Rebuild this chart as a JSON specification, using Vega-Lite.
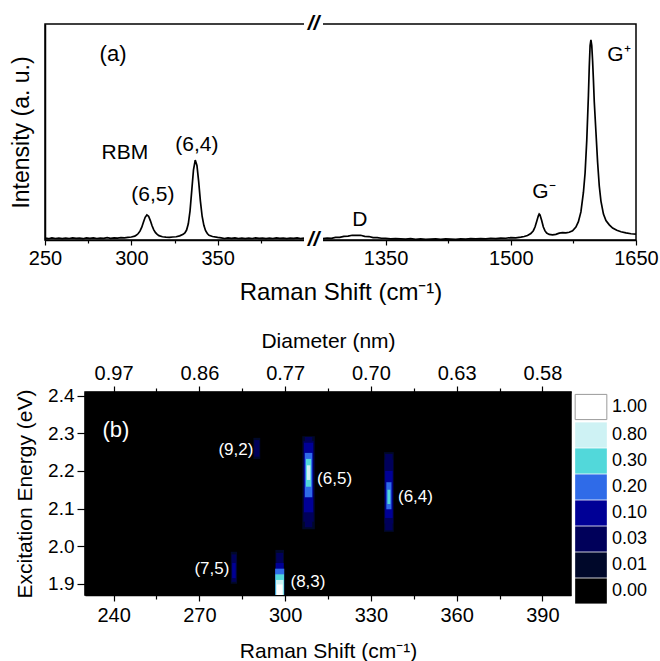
{
  "$schema": "https://vega.github.io/schema/vega-lite/v6.json",
  "padding": {"left": 9, "top": 12, "right": 5, "bottom": 5},
  "background": "white",
  "config": {
    "font": "Liberation Sans",
    "view": {"stroke": "black", "strokeWidth": 1.5},
    "axis": {"labelFont": "Liberation Sans", "titleFont": "Liberation Sans", "labelColor": "black", "titleColor": "black", "domainColor": "black", "tickColor": "black", "titleFontWeight": "normal", "grid": false, "labelFlush": false, "labelOverlap": false, "domainWidth": 1.5, "tickWidth": 1.2},
    "legend": {"labelFont": "Liberation Sans", "labelColor": "black"}
  },
  "datasets": {
    "spectrum": [
      {"s": 250, "i": 0.9, "g": "low"}, {"s": 252, "i": 0.6, "g": "low"}, {"s": 254, "i": 1.0, "g": "low"}, {"s": 256, "i": 0.7, "g": "low"}, {"s": 258, "i": 0.9, "g": "low"}, {"s": 260, "i": 0.6, "g": "low"}, {"s": 262, "i": 0.9, "g": "low"}, {"s": 264, "i": 0.7, "g": "low"}, {"s": 266, "i": 1.0, "g": "low"}, {"s": 268, "i": 0.8, "g": "low"}, {"s": 270, "i": 0.9, "g": "low"}, {"s": 272, "i": 0.6, "g": "low"}, {"s": 274, "i": 1.0, "g": "low"}, {"s": 276, "i": 0.8, "g": "low"}, {"s": 278, "i": 1.0, "g": "low"}, {"s": 280, "i": 0.7, "g": "low"}, {"s": 282, "i": 0.9, "g": "low"}, {"s": 284, "i": 0.8, "g": "low"}, {"s": 286, "i": 1.1, "g": "low"}, {"s": 288, "i": 0.8, "g": "low"}, {"s": 290, "i": 1.0, "g": "low"}, {"s": 292, "i": 0.9, "g": "low"}, {"s": 294, "i": 1.1, "g": "low"}, {"s": 296, "i": 1.0, "g": "low"}, {"s": 298, "i": 1.2, "g": "low"}, {"s": 300, "i": 1.4, "g": "low"}, {"s": 302, "i": 1.8, "g": "low"}, {"s": 303, "i": 2.3, "g": "low"}, {"s": 304, "i": 3.0, "g": "low"}, {"s": 305, "i": 4.1, "g": "low"}, {"s": 306, "i": 5.8, "g": "low"}, {"s": 307, "i": 8.2, "g": "low"}, {"s": 308, "i": 10.5, "g": "low"}, {"s": 309, "i": 11.6, "g": "low"}, {"s": 310, "i": 11.0, "g": "low"}, {"s": 311, "i": 9.0, "g": "low"}, {"s": 312, "i": 6.6, "g": "low"}, {"s": 313, "i": 4.7, "g": "low"}, {"s": 314, "i": 3.4, "g": "low"}, {"s": 315, "i": 2.6, "g": "low"}, {"s": 316, "i": 2.0, "g": "low"}, {"s": 318, "i": 1.5, "g": "low"}, {"s": 320, "i": 1.3, "g": "low"}, {"s": 322, "i": 1.2, "g": "low"}, {"s": 324, "i": 1.4, "g": "low"}, {"s": 326, "i": 1.5, "g": "low"}, {"s": 328, "i": 1.9, "g": "low"}, {"s": 330, "i": 2.6, "g": "low"}, {"s": 331, "i": 3.3, "g": "low"}, {"s": 332, "i": 4.6, "g": "low"}, {"s": 333, "i": 7.5, "g": "low"}, {"s": 334, "i": 13.5, "g": "low"}, {"s": 335, "i": 23, "g": "low"}, {"s": 336, "i": 32.5, "g": "low"}, {"s": 337, "i": 37, "g": "low"}, {"s": 338, "i": 34.5, "g": "low"}, {"s": 339, "i": 27, "g": "low"}, {"s": 340, "i": 18, "g": "low"}, {"s": 341, "i": 11, "g": "low"}, {"s": 342, "i": 6.8, "g": "low"}, {"s": 343, "i": 4.3, "g": "low"}, {"s": 344, "i": 3.0, "g": "low"}, {"s": 345, "i": 2.2, "g": "low"}, {"s": 347, "i": 1.6, "g": "low"}, {"s": 350, "i": 1.2, "g": "low"}, {"s": 352, "i": 1.0, "g": "low"}, {"s": 354, "i": 0.7, "g": "low"}, {"s": 356, "i": 1.0, "g": "low"}, {"s": 358, "i": 0.8, "g": "low"}, {"s": 360, "i": 1.0, "g": "low"}, {"s": 362, "i": 0.7, "g": "low"}, {"s": 364, "i": 0.9, "g": "low"}, {"s": 366, "i": 0.6, "g": "low"}, {"s": 368, "i": 0.9, "g": "low"}, {"s": 370, "i": 0.7, "g": "low"}, {"s": 372, "i": 1.0, "g": "low"}, {"s": 374, "i": 0.8, "g": "low"}, {"s": 376, "i": 0.9, "g": "low"}, {"s": 378, "i": 0.6, "g": "low"}, {"s": 380, "i": 0.9, "g": "low"}, {"s": 382, "i": 0.7, "g": "low"}, {"s": 384, "i": 1.0, "g": "low"}, {"s": 386, "i": 0.8, "g": "low"}, {"s": 388, "i": 0.9, "g": "low"}, {"s": 390, "i": 0.6, "g": "low"}, {"s": 392, "i": 0.9, "g": "low"}, {"s": 394, "i": 0.8, "g": "low"}, {"s": 396, "i": 1.0, "g": "low"}, {"s": 398, "i": 0.7, "g": "low"}, {"s": 400, "i": 0.9, "g": "low"},
      {"s": 1275, "i": 0.6, "g": "high"}, {"s": 1280, "i": 0.9, "g": "high"}, {"s": 1285, "i": 0.8, "g": "high"}, {"s": 1290, "i": 1.2, "g": "high"}, {"s": 1295, "i": 1.2, "g": "high"}, {"s": 1300, "i": 1.7, "g": "high"}, {"s": 1305, "i": 1.8, "g": "high"}, {"s": 1310, "i": 2.2, "g": "high"}, {"s": 1315, "i": 2.1, "g": "high"}, {"s": 1320, "i": 2.2, "g": "high"}, {"s": 1325, "i": 1.7, "g": "high"}, {"s": 1330, "i": 1.6, "g": "high"}, {"s": 1335, "i": 1.1, "g": "high"}, {"s": 1340, "i": 1.1, "g": "high"}, {"s": 1345, "i": 0.8, "g": "high"}, {"s": 1350, "i": 0.8, "g": "high"}, {"s": 1356, "i": 0.5, "g": "high"}, {"s": 1362, "i": 0.6, "g": "high"}, {"s": 1368, "i": 0.5, "g": "high"}, {"s": 1374, "i": 0.4, "g": "high"}, {"s": 1380, "i": 0.6, "g": "high"}, {"s": 1386, "i": 0.3, "g": "high"}, {"s": 1392, "i": 0.5, "g": "high"}, {"s": 1398, "i": 0.3, "g": "high"}, {"s": 1404, "i": 0.4, "g": "high"}, {"s": 1410, "i": 0.5, "g": "high"}, {"s": 1416, "i": 0.3, "g": "high"}, {"s": 1422, "i": 0.5, "g": "high"}, {"s": 1428, "i": 0.4, "g": "high"}, {"s": 1434, "i": 0.3, "g": "high"}, {"s": 1440, "i": 0.5, "g": "high"}, {"s": 1446, "i": 0.4, "g": "high"}, {"s": 1452, "i": 0.6, "g": "high"}, {"s": 1458, "i": 0.5, "g": "high"}, {"s": 1464, "i": 0.6, "g": "high"}, {"s": 1470, "i": 0.5, "g": "high"}, {"s": 1476, "i": 0.8, "g": "high"}, {"s": 1482, "i": 0.6, "g": "high"}, {"s": 1488, "i": 0.9, "g": "high"}, {"s": 1494, "i": 0.8, "g": "high"}, {"s": 1500, "i": 1.1, "g": "high"}, {"s": 1506, "i": 1.0, "g": "high"}, {"s": 1512, "i": 1.3, "g": "high"}, {"s": 1516, "i": 1.6, "g": "high"}, {"s": 1520, "i": 2.1, "g": "high"}, {"s": 1524, "i": 3.0, "g": "high"}, {"s": 1527, "i": 4.3, "g": "high"}, {"s": 1529, "i": 6.0, "g": "high"}, {"s": 1531, "i": 8.6, "g": "high"}, {"s": 1533, "i": 11.2, "g": "high"}, {"s": 1534, "i": 12.0, "g": "high"}, {"s": 1535, "i": 11.6, "g": "high"}, {"s": 1537, "i": 9.0, "g": "high"}, {"s": 1539, "i": 6.0, "g": "high"}, {"s": 1541, "i": 4.2, "g": "high"}, {"s": 1543, "i": 3.2, "g": "high"}, {"s": 1546, "i": 2.6, "g": "high"}, {"s": 1550, "i": 2.4, "g": "high"}, {"s": 1554, "i": 2.6, "g": "high"}, {"s": 1558, "i": 3.2, "g": "high"}, {"s": 1562, "i": 3.4, "g": "high"}, {"s": 1566, "i": 3.3, "g": "high"}, {"s": 1570, "i": 3.6, "g": "high"}, {"s": 1574, "i": 4.3, "g": "high"}, {"s": 1578, "i": 6.0, "g": "high"}, {"s": 1581, "i": 8.5, "g": "high"}, {"s": 1584, "i": 13, "g": "high"}, {"s": 1587, "i": 22, "g": "high"}, {"s": 1589, "i": 31, "g": "high"}, {"s": 1591, "i": 46, "g": "high"}, {"s": 1593, "i": 67, "g": "high"}, {"s": 1594, "i": 80, "g": "high"}, {"s": 1595, "i": 90, "g": "high"}, {"s": 1596, "i": 92.6, "g": "high"}, {"s": 1597, "i": 90, "g": "high"}, {"s": 1598, "i": 83, "g": "high"}, {"s": 1599, "i": 74, "g": "high"}, {"s": 1600, "i": 64, "g": "high"}, {"s": 1602, "i": 50, "g": "high"}, {"s": 1604, "i": 36, "g": "high"}, {"s": 1606, "i": 25, "g": "high"}, {"s": 1608, "i": 18, "g": "high"}, {"s": 1611, "i": 12, "g": "high"}, {"s": 1614, "i": 9, "g": "high"}, {"s": 1618, "i": 7, "g": "high"}, {"s": 1622, "i": 5.5, "g": "high"}, {"s": 1627, "i": 4.5, "g": "high"}, {"s": 1632, "i": 3.8, "g": "high"}, {"s": 1638, "i": 3.3, "g": "high"}, {"s": 1644, "i": 2.9, "g": "high"}, {"s": 1650, "i": 2.7, "g": "high"}
    ],
    "peaks": [
      {"label": "RBM", "s": 296.3, "i": 40.3},
      {"label": "(6,5)", "s": 312.5, "i": 20.8},
      {"label": "(6,4)", "s": 338, "i": 44},
      {"label": "D", "s": 1319, "i": 9.3},
      {"label": "G⁻", "s": 1539.8, "i": 22.2},
      {"label": "G⁺", "s": 1629.6, "i": 85.6}
    ],
    "cells": [
      {"r0": 288.9, "r1": 291.3, "e0": 2.232, "e1": 2.288, "level": "0.01"},
      {"r0": 289.2, "r1": 291.0, "e0": 2.238, "e1": 2.282, "level": "0.03"},
      {"r0": 306.0, "r1": 310.4, "e0": 2.045, "e1": 2.292, "level": "0.01"},
      {"r0": 306.9, "r1": 309.5, "e0": 2.05, "e1": 2.29, "level": "0.03"},
      {"r0": 306.4, "r1": 310.0, "e0": 2.065, "e1": 2.28, "level": "0.03"},
      {"r0": 306.6, "r1": 309.8, "e0": 2.09, "e1": 2.275, "level": "0.10"},
      {"r0": 306.9, "r1": 309.5, "e0": 2.13, "e1": 2.248, "level": "0.20"},
      {"r0": 307.3, "r1": 309.1, "e0": 2.158, "e1": 2.232, "level": "0.30"},
      {"r0": 307.6, "r1": 308.8, "e0": 2.176, "e1": 2.215, "level": "0.80"},
      {"r0": 334.6, "r1": 338.0, "e0": 2.038, "e1": 2.25, "level": "0.01"},
      {"r0": 335.0, "r1": 337.6, "e0": 2.042, "e1": 2.245, "level": "0.03"},
      {"r0": 334.8, "r1": 337.8, "e0": 2.06, "e1": 2.23, "level": "0.03"},
      {"r0": 335.0, "r1": 337.6, "e0": 2.075, "e1": 2.2, "level": "0.10"},
      {"r0": 335.4, "r1": 337.2, "e0": 2.098, "e1": 2.17, "level": "0.20"},
      {"r0": 335.8, "r1": 336.8, "e0": 2.112, "e1": 2.15, "level": "0.30"},
      {"r0": 281.0, "r1": 283.2, "e0": 1.9, "e1": 1.985, "level": "0.01"},
      {"r0": 281.3, "r1": 282.9, "e0": 1.905, "e1": 1.978, "level": "0.03"},
      {"r0": 281.5, "r1": 282.7, "e0": 1.915, "e1": 1.955, "level": "0.10"},
      {"r0": 296.6, "r1": 299.6, "e0": 1.87, "e1": 1.99, "level": "0.01"},
      {"r0": 296.9, "r1": 299.3, "e0": 1.87, "e1": 1.982, "level": "0.03"},
      {"r0": 296.7, "r1": 299.5, "e0": 1.87, "e1": 1.955, "level": "0.10"},
      {"r0": 296.5, "r1": 299.7, "e0": 1.87, "e1": 1.94, "level": "0.20"},
      {"r0": 296.6, "r1": 299.6, "e0": 1.87, "e1": 1.925, "level": "0.30"},
      {"r0": 296.8, "r1": 299.4, "e0": 1.87, "e1": 1.91, "level": "0.80"},
      {"r0": 297.1, "r1": 299.1, "e0": 1.87, "e1": 1.898, "level": "1.00"}
    ],
    "spots": [
      {"label": "(9,2)", "tx": 282.8, "ty": 2.255},
      {"label": "(6,5)", "tx": 317.3, "ty": 2.178},
      {"label": "(6,4)", "tx": 345.6, "ty": 2.13},
      {"label": "(7,5)", "tx": 274.4, "ty": 1.938},
      {"label": "(8,3)", "tx": 308, "ty": 1.904}
    ]
  },
  "vconcat": [
    {
      "width": 591,
      "height": 216,
      "layer": [
        {
          "data": {"name": "spectrum"},
          "mark": {"type": "line", "color": "black", "strokeWidth": 1.7},
          "encoding": {
            "x": {"field": "s", "type": "quantitative",
              "scale": {"domain": [250, 400, 1275, 1650], "range": [0, 259, 278, 591], "nice": false, "zero": false},
              "axis": {"values": [250, 275, 300, 325, 350, 375, 1350, 1425, 1500, 1575, 1650], "format": "d",
                "labelExpr": "indexof([250,300,350,1350,1500,1650], datum.value) >= 0 ? datum.label : ''",
                "tickSize": {"condition": {"test": "indexof([250,300,350,1350,1500,1650], datum.value) >= 0", "value": 5}, "value": 3},
                "title": "Raman Shift (cm⁻¹)", "titleFontSize": 24, "labelFontSize": 20, "labelPadding": 3, "titlePadding": 12}},
            "y": {"field": "i", "type": "quantitative",
              "scale": {"domain": [0, 100], "nice": false, "zero": false},
              "axis": {"title": "Intensity (a. u.)", "ticks": false, "labels": false, "titleFontSize": 23, "titlePadding": 12}},
            "detail": {"field": "g"}
          }
        },
        {
          "data": {"values": [{}]},
          "mark": {"type": "rect", "color": "white"},
          "encoding": {"x": {"datum": 400}, "x2": {"datum": 1275}, "y": {"datum": -3}, "y2": {"datum": 3}}
        },
        {
          "data": {"values": [{}]},
          "mark": {"type": "rect", "color": "white"},
          "encoding": {"x": {"datum": 400}, "x2": {"datum": 1275}, "y": {"datum": 97}, "y2": {"datum": 103}}
        },
        {
          "data": {"values": [{}]},
          "mark": {"type": "text", "text": "//", "fontSize": 21, "fontWeight": "bold", "fontStyle": "italic", "baseline": "middle", "align": "center"},
          "encoding": {"x": {"datum": 837}, "y": {"datum": 100}}
        },
        {
          "data": {"values": [{}]},
          "mark": {"type": "text", "text": "//", "fontSize": 21, "fontWeight": "bold", "fontStyle": "italic", "baseline": "middle", "align": "center"},
          "encoding": {"x": {"datum": 837}, "y": {"datum": 0}}
        },
        {
          "data": {"name": "peaks"},
          "mark": {"type": "text", "fontSize": 21, "baseline": "middle", "align": "center", "color": "black"},
          "encoding": {"x": {"field": "s", "type": "quantitative"}, "y": {"field": "i", "type": "quantitative"}, "text": {"field": "label"}}
        },
        {
          "data": {"values": [{"label": "(a)", "s": 289.4, "i": 86}]},
          "mark": {"type": "text", "fontSize": 22, "baseline": "middle", "align": "center", "color": "black"},
          "encoding": {"x": {"field": "s", "type": "quantitative"}, "y": {"field": "i", "type": "quantitative"}, "text": {"field": "label"}}
        }
      ]
    },
    {
      "hconcat": [
        {
          "width": 40,
          "height": 203,
          "view": {"stroke": null, "fill": null},
          "data": {"values": [{}]},
          "mark": {"type": "point", "opacity": 0},
          "encoding": {}
        },
        {
          "width": 486,
          "height": 203,
          "view": {"fill": "black", "stroke": "black"},
          "layer": [
            {
              "data": {"name": "cells"},
              "mark": {"type": "rect", "strokeWidth": 0},
              "encoding": {
                "x": {"field": "r0", "type": "quantitative",
                  "scale": {"domain": [230, 400], "nice": false, "zero": false},
                  "axis": {"values": [240, 255, 270, 285, 300, 315, 330, 345, 360, 375, 390],
                    "labelExpr": "(datum.value - 240) % 30 == 0 ? datum.label : ''",
                    "tickSize": {"condition": {"test": "(datum.value - 240) % 30 == 0", "value": 6}, "value": 4},
                    "title": "Raman Shift (cm⁻¹)", "titleFontSize": 21, "labelFontSize": 20, "labelPadding": 4, "titlePadding": 15}},
                "x2": {"field": "r1"},
                "y": {"field": "e0", "type": "quantitative",
                  "scale": {"domain": [1.87, 2.41], "nice": false, "zero": false},
                  "axis": {"values": [1.9, 1.95, 2.0, 2.05, 2.1, 2.15, 2.2, 2.25, 2.3, 2.35, 2.4],
                    "labelExpr": "round(datum.value * 100) % 10 == 0 ? format(datum.value, '.1f') : ''",
                    "tickSize": {"condition": {"test": "round(datum.value * 100) % 10 == 0", "value": 8}, "value": 5},
                    "title": "Excitation Energy (eV)", "titleFontSize": 21, "labelFontSize": 19, "labelPadding": 3, "titlePadding": 12}},
                "y2": {"field": "e1"},
                "color": {"field": "level", "type": "nominal",
                  "scale": {"domain": ["1.00", "0.80", "0.30", "0.20", "0.10", "0.03", "0.01", "0.00"],
                    "range": ["#ffffff", "#cef2f4", "#52d8da", "#2f6be8", "#000096", "#00005a", "#00082a", "#000000"]},
                  "legend": {"title": null, "orient": "right", "offset": 5, "padding": 6, "symbolType": "M-1.32,-1.05L1.32,-1.05L1.32,1.05L-1.32,1.05Z", "symbolSize": 576, "symbolStrokeWidth": 0, "symbolOpacity": 1, "rowPadding": 0, "labelFontSize": 18, "labelOffset": 12,
                    "encode": {"symbols": {"update": {"stroke": {"signal": "datum.value == '1.00' ? '#9a9a9a' : null"}, "strokeWidth": {"signal": "datum.value == '1.00' ? 1 : 0"}}}}}}
              }
            },
            {
              "data": {"name": "spots"},
              "mark": {"type": "text", "color": "white", "fontSize": 17, "baseline": "middle", "align": "center"},
              "encoding": {
                "x": {"field": "tx", "type": "quantitative",
                  "axis": {"orient": "top", "values": [240, 255, 270, 285, 300, 315, 330, 345, 360, 375, 390],
                    "labelExpr": "datum.value == 240 ? '0.97' : datum.value == 270 ? '0.86' : datum.value == 300 ? '0.77' : datum.value == 330 ? '0.70' : datum.value == 360 ? '0.63' : datum.value == 390 ? '0.58' : ''",
                    "tickSize": {"condition": {"test": "(datum.value - 240) % 30 == 0", "value": 6}, "value": 4},
                    "title": "Diameter (nm)", "titleFontSize": 21, "labelFontSize": 20, "labelPadding": 3, "titlePadding": 12}},
                "y": {"field": "ty", "type": "quantitative"},
                "text": {"field": "label"}
              }
            },
            {
              "data": {"values": [{"label": "(b)", "tx": 240.8, "ty": 2.309}]},
              "mark": {"type": "text", "color": "white", "fontSize": 22, "baseline": "middle", "align": "center"},
              "encoding": {
                "x": {"field": "tx", "type": "quantitative", "axis": null},
                "y": {"field": "ty", "type": "quantitative"},
                "text": {"field": "label"}
              }
            }
          ],
          "resolve": {"axis": {"x": "independent"}}
        }
      ],
      "spacing": 0,
      "bounds": "flush",
      "resolve": {"scale": {"color": "independent"}, "legend": {"color": "independent"}}
    }
  ],
  "spacing": 152,
  "bounds": "flush",
  "resolve": {"scale": {"color": "independent"}, "legend": {"color": "independent"}}
}
